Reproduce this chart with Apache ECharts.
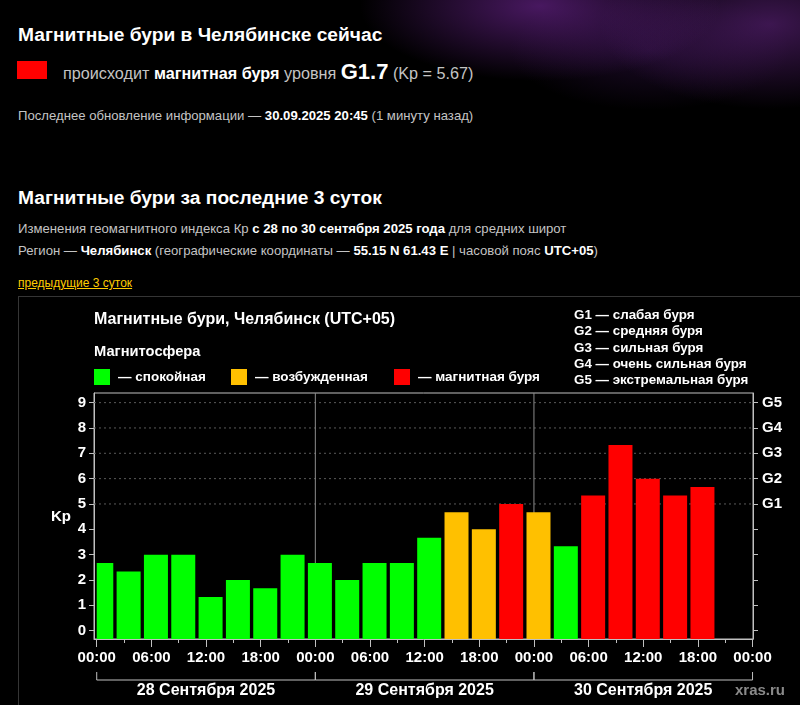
<!DOCTYPE html>
<html>
<head>
    <meta http-equiv="Content-Type" content="text/html; charset=utf-8" />
    <title>Магнитные бури в Челябинске</title>
    <script type="text/javascript" src="https://cdn.jsdelivr.net/npm/echarts@6.0.0/dist/echarts.min.js"></script>
    <style>
        html, body {
            margin: 0;
            padding: 0;
        }

        body {
            width: 800px;
            height: 705px;
            overflow: hidden;
            position: relative;
            background: #000;
            font-family: "Liberation Sans", Arial, sans-serif;
            color: #c4c4c4;
        }

        .glow {
            position: absolute;
            left: 0;
            top: 0;
            width: 800px;
            height: 170px;
            background:
                radial-gradient(ellipse 180px 75px at 540px 6px, rgba(120, 40, 160, 0.6), rgba(0, 0, 0, 0)),
                radial-gradient(ellipse 170px 85px at 770px 24px, rgba(110, 40, 145, 0.55), rgba(0, 0, 0, 0)),
                radial-gradient(ellipse 140px 60px at 650px 50px, rgba(70, 25, 100, 0.4), rgba(0, 0, 0, 0));
        }

        .t {
            position: absolute;
            white-space: nowrap;
        }

        .t b {
            color: #fff;
        }

        .h {
            left: 18px;
            font-size: 19.2px;
            line-height: 22px;
            font-weight: bold;
            color: #fff;
        }

        .s {
            left: 18px;
            font-size: 13.15px;
            line-height: 16px;
        }

        .box {
            position: absolute;
            left: 18px;
            top: 296px;
            width: 800px;
            height: 430px;
            border: 1px solid #353535;
        }

        #chart {
            position: absolute;
            left: 19px;
            top: 297px;
            width: 781px;
            height: 408px;
        }
    </style>
</head>
<body>
    <div class="glow"></div>

    <div class="t h" style="top:24px;">Магнитные бури в Челябинске сейчас</div>
    <div class="t" style="left:17px;top:61px;width:30px;height:18px;background:#ff0000;"></div>
    <div class="t" style="left:63px;top:59px;font-size:16.2px;line-height:26px;">
        происходит <b>магнитная буря</b> уровня <b style="font-size:22px;">G1.7</b> (Kp = 5.67)
    </div>
    <div class="t s" style="top:108px;">Последнее обновление информации — <b>30.09.2025 20:45</b> (1 минуту назад)</div>

    <div class="t h" style="top:187px;">Магнитные бури за последние 3 суток</div>
    <div class="t s" style="top:221px;">Изменения геомагнитного индекса Кр <b>с 28 по 30 сентября 2025 года</b> для средних широт</div>
    <div class="t s" style="top:243px;">Регион — <b>Челябинск</b> (географические координаты — <b>55.15 N 61.43 E</b> | часовой пояс <b>UTC+05</b>)</div>
    <div class="t" style="left:18px;top:276px;font-size:12px;line-height:14px;color:#ffcc00;text-decoration:underline;">предыдущие 3 суток</div>

    <div class="box"></div>
    <div id="chart"></div>

    <script>
        //3-часовые интервалы: середина интервала, часы от 28.09 00:00
        var kpHours = [0.5, 3.5, 6.5, 9.5, 12.5, 15.5, 18.5, 21.5,
            24.5, 27.5, 30.5, 33.5, 36.5, 39.5, 42.5, 45.5,
            48.5, 51.5, 54.5, 57.5, 60.5, 63.5, 66.5];
        var kpValues = [2.67, 2.33, 3, 3, 1.33, 2, 1.67, 3,
            2.67, 2, 2.67, 2.67, 3.67, 4.67, 4, 5,
            4.67, 3.33, 5.33, 7.33, 6, 5.33, 5.67];

        var majorHours = [0, 6, 12, 18, 24, 30, 36, 42, 48, 54, 60, 66, 72];
        var hourLabels = ['00:00', '06:00', '12:00', '18:00', '00:00', '06:00', '12:00', '18:00',
            '00:00', '06:00', '12:00', '18:00', '00:00'];
        var minorHours = [3, 9, 15, 21, 27, 33, 39, 45, 51, 57, 63, 69];

        var dayStartHours = [0, 24, 48];
        var dayLabels = ['28 Сентября 2025', '29 Сентября 2025', '30 Сентября 2025'];

        var kpTicks = [0, 1, 2, 3, 4, 5, 6, 7, 8, 9];
        var stormKp = [5, 6, 7, 8, 9];
        var stormLabels = ['G1', 'G2', 'G3', 'G4', 'G5'];
        var stormLegend = ['G1 — слабая буря', 'G2 — средняя буря', 'G3 — сильная буря',
            'G4 — очень сильная буря', 'G5 — экстремальная буря'];

        var stateLabels = ['— спокойная', '— возбужденная', '— магнитная буря'];

        var COLOR_QUIET = '#00ff00';
        var COLOR_ACTIVE = '#ffc000';
        var COLOR_STORM = '#ff0000';
        var AXIS_COLOR = '#c0c0c0';
        var FONT = '"Liberation Sans", Arial, sans-serif';
        var BAR_WIDTH = 24;

        function kpColor(kp) {
            if (kp >= 5) return COLOR_STORM;
            if (kp >= 4) return COLOR_ACTIVE;
            return COLOR_QUIET;
        }

        function boldText(size) {
            return { color: '#fff', fontWeight: 'bold', fontSize: size, fontFamily: FONT };
        }

        var myChart = echarts.init(document.getElementById('chart'));

        //столбцы Kp
        function renderBar(params, api) {
            var t = api.value(0);
            var kp = api.value(1);
            var top = api.coord([t, kp]);
            var bottom = params.coordSys.y + params.coordSys.height;
            var left = Math.max(top[0] - BAR_WIDTH / 2, api.coord([dayStartHours[0], 0])[0]);
            var right = top[0] + BAR_WIDTH / 2;
            return {
                type: 'rect',
                shape: { x: left, y: top[1], width: right - left, height: bottom - top[1] },
                style: { fill: kpColor(kp) }
            };
        }

        //пунктир на уровнях бурь
        function renderLevel(params, api) {
            var y = api.coord([0, api.value(0)])[1];
            var cs = params.coordSys;
            return {
                type: 'line',
                shape: { x1: cs.x, y1: y, x2: cs.x + cs.width, y2: y },
                style: { stroke: '#5a5a5a', lineWidth: 1, lineDash: [2, 3] }
            };
        }

        //границы суток
        function renderDayLine(params, api) {
            var x = api.coord([api.value(0), 0])[0];
            var cs = params.coordSys;
            return {
                type: 'line',
                shape: { x1: x, y1: cs.y, x2: x, y2: cs.y + cs.height },
                style: { stroke: '#8c8c8c', lineWidth: 1 }
            };
        }

        //скобки с датами под осью
        function renderDay(params, api) {
            var start = api.value(0);
            var x1 = api.coord([start, 0])[0];
            var x2 = api.coord([start + 24, 0])[0];
            var base = params.coordSys.y + params.coordSys.height;
            var yLine = base + 41;
            return {
                type: 'group',
                children: [
                    { type: 'line', shape: { x1: x1, y1: yLine, x2: x2, y2: yLine }, style: { stroke: AXIS_COLOR, lineWidth: 1 } },
                    { type: 'line', shape: { x1: x1, y1: yLine - 8, x2: x1, y2: yLine }, style: { stroke: AXIS_COLOR, lineWidth: 1 } },
                    { type: 'line', shape: { x1: x2, y1: yLine - 8, x2: x2, y2: yLine }, style: { stroke: AXIS_COLOR, lineWidth: 1 } },
                    {
                        type: 'text',
                        style: {
                            text: dayLabels[params.dataIndex], x: (x1 + x2) / 2, y: base + 52,
                            align: 'center', verticalAlign: 'middle',
                            fill: '#fff', font: 'bold 16px ' + FONT
                        }
                    }
                ]
            };
        }

        var graphics = [
            { type: 'text', left: 75, top: 15, style: { text: 'Магнитные бури, Челябинск (UTC+05)', fill: '#fff', font: 'bold 16px ' + FONT } },
            { type: 'text', left: 75, top: 47, style: { text: 'Магнитосфера', fill: '#fff', font: 'bold 14.7px ' + FONT } },
            { type: 'text', left: 32, top: 212, style: { text: 'Kp', fill: '#fff', font: 'bold 15px ' + FONT } },
            { type: 'text', left: 716, top: 386, style: { text: 'xras.ru', fill: '#8a8a8a', font: 'bold 15px ' + FONT } }
        ];

        var legendX = [75, 212, 375];
        var legendColors = [COLOR_QUIET, COLOR_ACTIVE, COLOR_STORM];
        for (var i = 0; i < stateLabels.length; i++) {
            graphics.push({ type: 'rect', left: legendX[i], top: 72, shape: { width: 16, height: 16 }, style: { fill: legendColors[i] } });
            graphics.push({ type: 'text', left: legendX[i] + 24, top: 73, style: { text: stateLabels[i], fill: '#fff', font: 'bold 13.5px ' + FONT } });
        }
        for (var j = 0; j < stormLegend.length; j++) {
            graphics.push({ type: 'text', left: 555, top: 12 + j * 16.2, style: { text: stormLegend[j], fill: '#fff', font: 'bold 13.4px ' + FONT } });
        }

        var option = {
            backgroundColor: 'transparent',
            animation: false,
            grid: {
                left: 75, right: 47, top: 96, bottom: 66,
                show: true, borderColor: AXIS_COLOR, borderWidth: 1, backgroundColor: 'transparent'
            },
            xAxis: [
                {
                    type: 'value', min: -0.3, max: 72.05, position: 'bottom',
                    axisLine: { show: true, onZero: false, lineStyle: { color: AXIS_COLOR } },
                    axisTick: { show: true, customValues: majorHours, length: 8, lineStyle: { color: AXIS_COLOR } },
                    axisLabel: {
                        customValues: majorHours, margin: 11,
                        color: '#fff', fontWeight: 'bold', fontSize: 15, fontFamily: FONT,
                        formatter: function (v) {
                            var k = majorHours.indexOf(v);
                            return k < 0 ? '' : hourLabels[k];
                        }
                    },
                    splitLine: { show: false }
                },
                {
                    type: 'value', min: -0.3, max: 72.05, position: 'bottom',
                    axisLine: { show: false, onZero: false },
                    axisTick: { show: true, customValues: minorHours, length: 4, lineStyle: { color: AXIS_COLOR } },
                    axisLabel: { show: false },
                    splitLine: { show: false }
                }
            ],
            yAxis: [
                {
                    type: 'value', min: -0.33, max: 9.38, position: 'left',
                    axisLine: { show: true, onZero: false, lineStyle: { color: AXIS_COLOR } },
                    axisTick: { show: true, customValues: kpTicks, length: 5, lineStyle: { color: AXIS_COLOR } },
                    axisLabel: Object.assign({ customValues: kpTicks, margin: 8 }, boldText(15)),
                    splitLine: { show: false }
                },
                {
                    type: 'value', min: -0.33, max: 9.38, position: 'right',
                    axisLine: { show: true, onZero: false, lineStyle: { color: AXIS_COLOR } },
                    axisTick: { show: true, customValues: kpTicks, length: 5, lineStyle: { color: AXIS_COLOR } },
                    axisLabel: Object.assign({
                        customValues: stormKp, margin: 9,
                        formatter: function (v) {
                            var k = stormKp.indexOf(v);
                            return k < 0 ? '' : stormLabels[k];
                        }
                    }, boldText(15)),
                    splitLine: { show: false }
                }
            ],
            series: [
                { type: 'custom', z: 1, renderItem: renderLevel, data: stormKp.map(function (v) { return [v]; }), encode: { y: 0 } },
                { type: 'custom', z: 1, renderItem: renderDayLine, data: [dayStartHours[1], dayStartHours[2]].map(function (v) { return [v]; }), encode: { x: 0 } },
                {
                    type: 'custom', z: 3, renderItem: renderBar,
                    data: kpHours.map(function (h, k) { return [h, kpValues[k]]; }),
                    encode: { x: 0, y: 1 }
                },
                { type: 'custom', z: 3, clip: false, renderItem: renderDay, data: dayStartHours.map(function (v) { return [v]; }), encode: { x: 0 } }
            ],
            graphic: graphics
        };

        myChart.setOption(option);
    </script>
</body>
</html>
